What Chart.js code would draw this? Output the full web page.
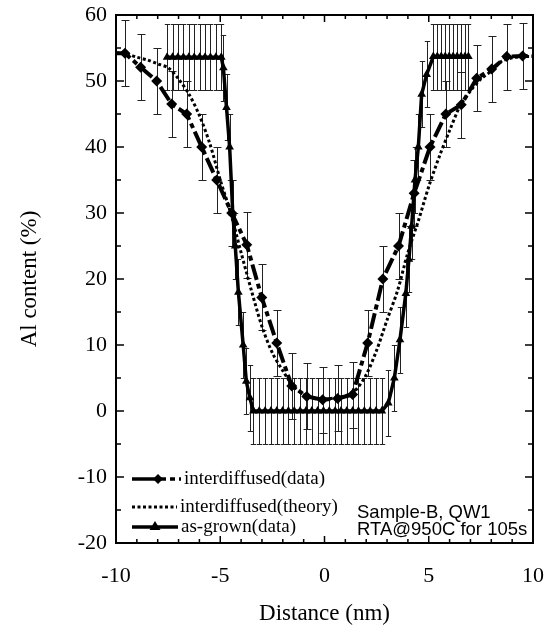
<!DOCTYPE html>
<html>
<head>
<meta charset="utf-8">
<script src="https://cdn.jsdelivr.net/npm/chart.js@4.4.0/dist/chart.umd.min.js"></script>
<style>
  html, body { margin: 0; padding: 0; background: #fff; }
  #wrap { width: 553px; height: 630px; }
</style>
</head>
<body>
<div id="wrap"><canvas id="c" width="553" height="630"></canvas></div>
<script>
// as-grown (data), triangles, solid line
var asGrownX = [-7.55, -7.29, -7.03, -6.77, -6.51, -6.25, -5.99, -5.73, -5.47, -5.21, -4.95,
  -4.85, -4.7, -4.55, -4.4, -4.28, -4.13, -3.9, -3.75, -3.58,
  -3.41, -3.13, -2.85, -2.57, -2.29, -2.01, -1.73, -1.45, -1.17, -0.89, -0.61, -0.33,
  -0.05, 0.23, 0.51, 0.79, 1.07, 1.35, 1.63, 1.91, 2.19, 2.47, 2.75,
  3.06, 3.35, 3.62, 3.9, 4.05, 4.18, 4.34, 4.5, 4.66, 4.9,
  5.22, 5.41, 5.6, 5.79, 5.98, 6.17, 6.36, 6.55, 6.74, 6.9];
var asGrownY = [53.6, 53.6, 53.6, 53.6, 53.6, 53.6, 53.6, 53.6, 53.6, 53.6, 53.6,
  52, 46, 40, 30, 25, 18, 10, 4.5, 2,
  0, 0, 0, 0, 0, 0, 0, 0, 0, 0, 0, 0,
  0, 0, 0, 0, 0, 0, 0, 0, 0, 0, 0,
  1.2, 5, 10.8, 17.8, 23, 28, 35, 40, 48, 51,
  53.7, 53.7, 53.7, 53.7, 53.7, 53.7, 53.7, 53.7, 53.7, 53.7];
var asGrownErr = 5;

// interdiffused (data), diamonds, dashed line
var diffX = [-10, -9.57, -8.82, -8.05, -7.33, -6.61, -5.89, -5.17, -4.45, -3.73, -3.01, -2.29,
  -1.57, -0.85, -0.09, 0.63, 1.35, 2.07, 2.8, 3.55, 4.3, 5.06, 5.82, 6.56, 7.3, 8.02, 8.74, 9.5, 10];
var diffY = [54.2, 54.2, 52.1, 50.0, 46.5, 45.0, 40.0, 35.0, 30.0, 25.2, 17.2, 10.3,
  3.8, 2.2, 1.7, 1.9, 2.5, 10.3, 20.0, 25.0, 33.0, 40.0, 45.0, 46.4, 50.4, 51.8, 53.7, 53.8, 53.8];
var diffErr = 5;

// interdiffused (theory), dotted line
var theoryX = [-10, -9.5, -9, -8.5, -8, -7.5, -7, -6.5, -6, -5.5, -5, -4.5, -4, -3.5, -3, -2.5, -2,
  -1.5, -1, -0.5, 0, 0.5, 1, 1.5, 2, 2.5, 3, 3.5, 4, 4.5, 5, 5.5, 6, 6.5, 7, 7.5, 8, 8.5, 9, 9.5, 10];
var theoryY = [54.3, 54.1, 53.6, 53.2, 52.6, 52.0, 50.3, 48.0, 44.8, 40.5, 35.0, 30.0, 24.0, 18.2, 12.8, 8.8, 6.1,
  3.8, 2.5, 1.9, 1.8, 2.0, 2.3, 3.2, 5.5, 9.2, 13.8, 18.2, 24.0, 28.8, 34.0, 38.5, 42.5, 46.2, 48.5, 50.3, 51.5, 53.0, 53.5, 53.7, 53.7];

var xTicks = [-10, -5, 0, 5, 10];
var yTicks = [-20, -10, 0, 10, 20, 30, 40, 50, 60];

var legendLabels = ['interdiffused(data)', 'interdiffused(theory)', 'as-grown(data)'];
var noteLines = ['Sample-B, QW1', 'RTA@950C for 105s'];

function pts(xs, ys) {
  return xs.map(function(x, i) { return { x: x, y: ys[i] }; });
}

var serif = "'Liberation Serif', 'Times New Roman', serif";
var sans = "'Liberation Sans', Arial, sans-serif";

// error bars behind the lines
var errorBars = {
  id: 'errorBars',
  beforeDatasetsDraw: function(chart) {
    var ctx = chart.ctx, a = chart.chartArea, sx = chart.scales.x, sy = chart.scales.y;
    ctx.save();
    ctx.beginPath();
    ctx.rect(a.left, a.top, a.right - a.left, a.bottom - a.top);
    ctx.clip();
    ctx.strokeStyle = '#222';
    ctx.lineWidth = 1;
    function draw(xs, ys, err, cap) {
      for (var i = 0; i < xs.length; i++) {
        if (Math.abs(xs[i]) >= 10) continue;
        var px = Math.round(sx.getPixelForValue(xs[i])) + 0.5;
        var t = Math.round(sy.getPixelForValue(ys[i] + err)) + 0.5;
        var b = Math.round(sy.getPixelForValue(ys[i] - err)) + 0.5;
        ctx.beginPath();
        ctx.moveTo(px, t); ctx.lineTo(px, b);
        ctx.moveTo(px - cap, t); ctx.lineTo(px + cap, t);
        ctx.moveTo(px - cap, b); ctx.lineTo(px + cap, b);
        ctx.stroke();
      }
    }
    draw(diffX, diffY, diffErr, 4);
    draw(asGrownX, asGrownY, asGrownErr, 2.7);
    ctx.restore();
  }
};

// box, inward ticks, legend and note
var frame = {
  id: 'frame',
  afterDraw: function(chart) {
    var ctx = chart.ctx, a = chart.chartArea, sx = chart.scales.x, sy = chart.scales.y;
    ctx.save();
    ctx.strokeStyle = '#000';
    ctx.lineWidth = 2;
    ctx.strokeRect(a.left, a.top, a.right - a.left, a.bottom - a.top);
    ctx.lineWidth = 1.5;
    ctx.beginPath();
    for (var v = -10; v <= 10; v++) {
      var px = sx.getPixelForValue(v);
      var len = (v % 5 === 0) ? 7 : 4;
      ctx.moveTo(px, a.bottom); ctx.lineTo(px, a.bottom - len);
      ctx.moveTo(px, a.top); ctx.lineTo(px, a.top + len);
    }
    for (var w = -20; w <= 60; w += 5) {
      var py = sy.getPixelForValue(w);
      var l2 = (w % 10 === 0) ? 8 : 5;
      ctx.moveTo(a.left, py); ctx.lineTo(a.left + l2, py);
      ctx.moveTo(a.right, py); ctx.lineTo(a.right - l2, py);
    }
    ctx.stroke();

    // legend
    var rows = [479, 507, 527];
    var x0 = 132, x1 = 181;
    ctx.fillStyle = '#000';
    ctx.strokeStyle = '#000';
    ctx.lineWidth = 3.5;
    // row 1: long solid, diamond, short dashes
    ctx.beginPath();
    ctx.moveTo(x0, rows[0]); ctx.lineTo(157, rows[0]);
    ctx.stroke();
    ctx.setLineDash([5, 4]);
    ctx.beginPath();
    ctx.moveTo(161, rows[0]); ctx.lineTo(x1, rows[0]);
    ctx.stroke();
    ctx.setLineDash([]);
    ctx.beginPath();
    ctx.moveTo(158, rows[0] - 5); ctx.lineTo(163, rows[0]);
    ctx.lineTo(158, rows[0] + 5); ctx.lineTo(153, rows[0]);
    ctx.closePath(); ctx.fill();
    // row 2: dotted
    ctx.lineWidth = 3;
    ctx.setLineDash([3, 2.5]);
    ctx.beginPath();
    ctx.moveTo(x0, rows[1]); ctx.lineTo(177, rows[1]);
    ctx.stroke();
    ctx.setLineDash([]);
    // row 3: solid with triangle
    ctx.lineWidth = 3.5;
    ctx.beginPath();
    ctx.moveTo(x0, rows[2]); ctx.lineTo(178, rows[2]);
    ctx.stroke();
    ctx.beginPath();
    ctx.moveTo(155, rows[2] - 6); ctx.lineTo(160.5, rows[2] + 3);
    ctx.lineTo(149.5, rows[2] + 3); ctx.closePath(); ctx.fill();

    ctx.font = '19px ' + serif;
    ctx.textBaseline = 'middle';
    ctx.textAlign = 'left';
    ctx.fillText(legendLabels[0], 184, rows[0]);
    ctx.fillText(legendLabels[1], 180, rows[1]);
    ctx.fillText(legendLabels[2], 181, rows[2]);

    ctx.font = '18.5px ' + sans;
    ctx.textBaseline = 'alphabetic';
    ctx.fillText(noteLines[0], 357, 518);
    ctx.fillText(noteLines[1], 357, 535);
    ctx.restore();
  }
};

var ctx = document.getElementById('c').getContext('2d');
var chart = new Chart(ctx, {
  type: 'line',
  data: {
    datasets: [
      {
        label: 'interdiffused(theory)',
        data: pts(theoryX, theoryY),
        borderColor: '#000',
        borderWidth: 3,
        borderDash: [3, 2.5],
        pointRadius: 0,
        fill: false,
        tension: 0.3
      },
      {
        label: 'interdiffused(data)',
        data: pts(diffX, diffY),
        borderColor: '#000',
        backgroundColor: '#000',
        borderWidth: 4,
        borderDash: [16, 4, 5, 4],
        pointStyle: 'rectRot',
        pointRadius: function(c) { return Math.abs(diffX[c.dataIndex]) >= 10 ? 0 : 5.5; },
        pointBorderWidth: 0,
        fill: false,
        tension: 0
      },
      {
        label: 'as-grown(data)',
        data: pts(asGrownX, asGrownY),
        borderColor: '#000',
        backgroundColor: '#000',
        borderWidth: 3.5,
        pointStyle: 'triangle',
        pointRadius: 5,
        pointBorderWidth: 0,
        fill: false,
        tension: 0
      }
    ]
  },
  options: {
    responsive: false,
    animation: false,
    events: [],
    layout: { padding: { top: 15, right: 20, left: 0, bottom: 0 } },
    plugins: {
      legend: { display: false },
      tooltip: { enabled: false }
    },
    scales: {
      x: {
        type: 'linear',
        min: -10,
        max: 10,
        grid: { display: false, drawTicks: false },
        border: { display: false },
        afterBuildTicks: function(s) { s.ticks = xTicks.map(function(v) { return { value: v }; }); },
        afterFit: function(s) { s.height = 87; s.paddingLeft = 0; s.paddingRight = 0; },
        ticks: { color: '#000', padding: 20, maxRotation: 0, font: { family: serif, size: 22 } },
        title: { display: true, text: 'Distance (nm)', color: '#000', padding: { top: 4, bottom: 2 }, font: { family: serif, size: 23 } }
      },
      y: {
        type: 'linear',
        min: -20,
        max: 60,
        grid: { display: false, drawTicks: false },
        border: { display: false },
        afterBuildTicks: function(s) { s.ticks = yTicks.map(function(v) { return { value: v }; }); },
        afterFit: function(s) { s.width = 116; s.paddingTop = 0; s.paddingBottom = 0; },
        ticks: { color: '#000', padding: 9, font: { family: serif, size: 22 } },
        title: { display: true, text: 'Al content (%)', color: '#000', padding: { top: 16, bottom: 0 }, font: { family: serif, size: 23 } }
      }
    }
  },
  plugins: [errorBars, frame]
});
</script>
</body>
</html>
